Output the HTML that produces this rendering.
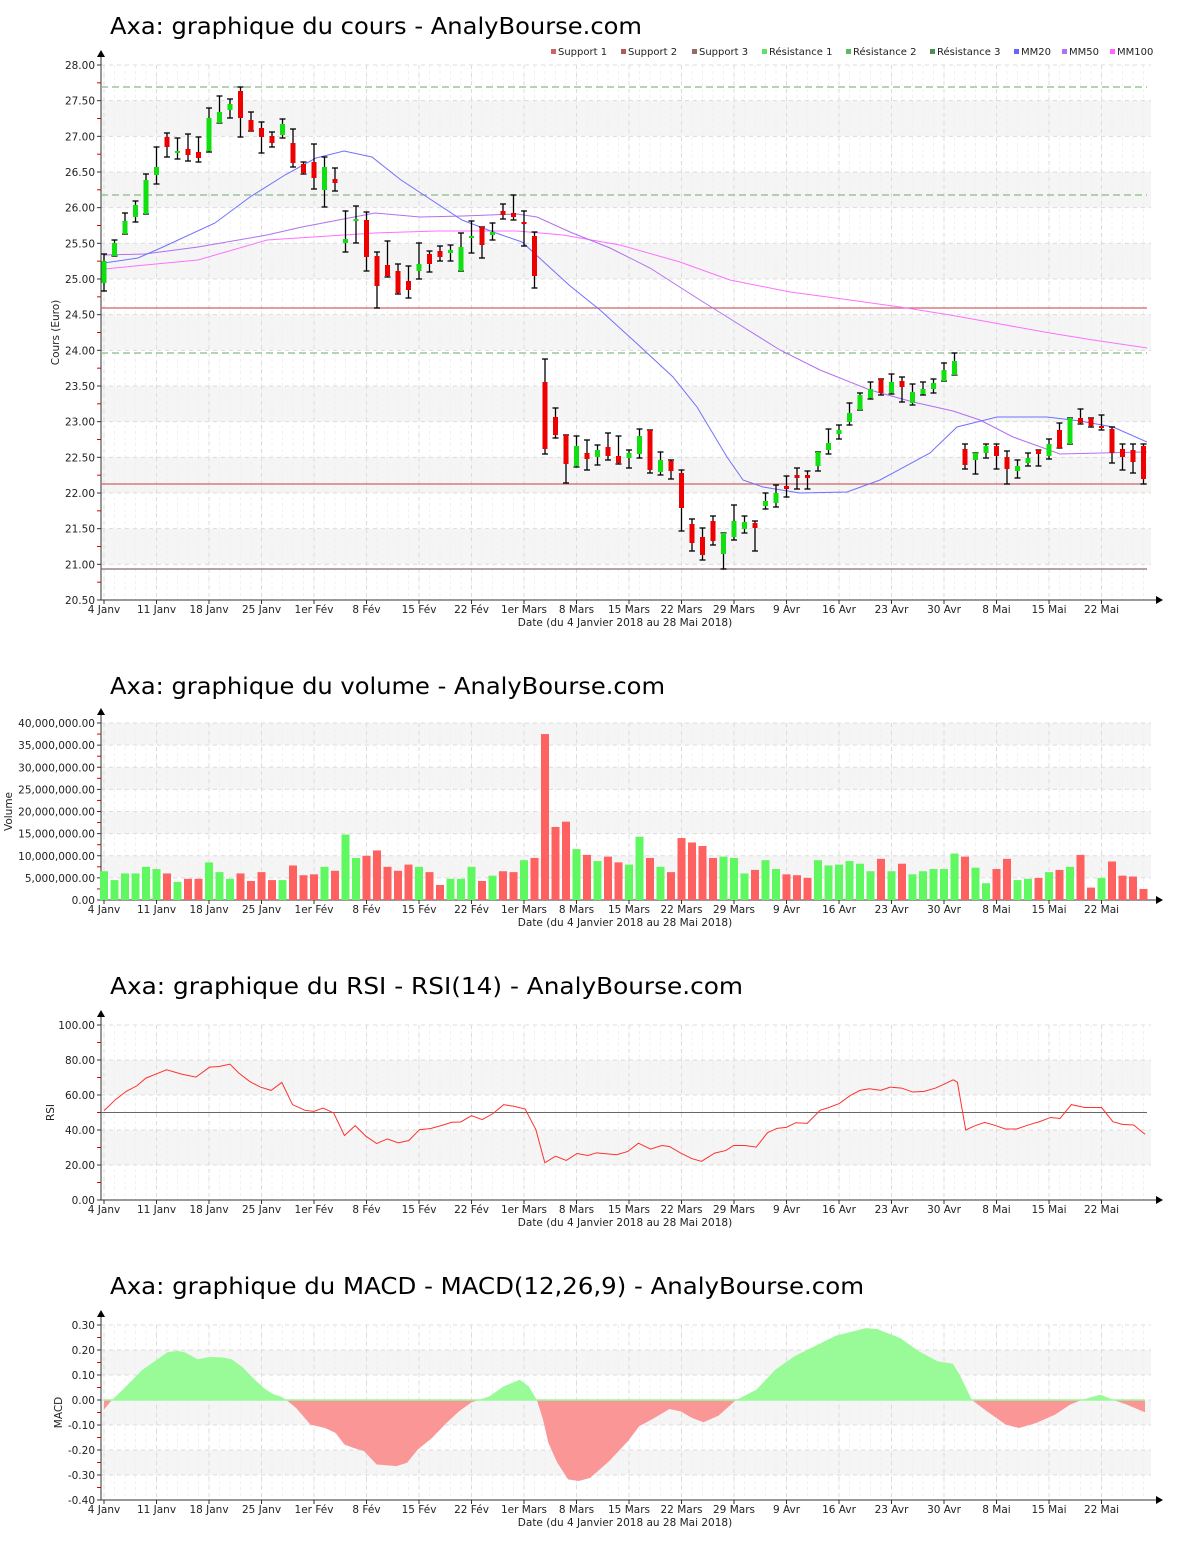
<!DOCTYPE html>
<html><head><meta charset="utf-8">
<style>
html,body{margin:0;padding:0;background:#fff;}
svg{display:block;}
text{font-family:"DejaVu Sans","Liberation Sans",sans-serif;}
</style></head>
<body>
<svg id="s" width="1200" height="1550" xmlns="http://www.w3.org/2000/svg"></svg>
<script>
var S=document.getElementById('s'),h='';
function X(i){return 104+10.5*i;}
var ticks=["4 Janv","11 Janv","18 Janv","25 Janv","1er Fév","8 Fév","15 Fév","22 Fév","1er Mars","8 Mars","15 Mars","22 Mars","29 Mars","9 Avr","16 Avr","23 Avr","30 Avr","8 Mai","15 Mai","22 Mai"];
function frame(o){
 h+='<text x="110" y="'+o.titleY+'" font-size="23.5" fill="#000" textLength="'+o.tl+'" lengthAdjust="spacingAndGlyphs">'+o.title+'</text>';
 o.bands.forEach(function(b){h+='<rect x="101" y="'+b[0]+'" width="1050" height="'+(b[1]-b[0])+'" fill="#f5f5f5"/>';});
 for(var i=0;i<100;i++){h+='<line x1="'+X(i)+'" y1="'+o.top+'" x2="'+X(i)+'" y2="'+o.bot+'" stroke="#f0f0f0" stroke-dasharray="3,3"/>';}
 for(var k=0;k<20;k++){var x=104+52.5*k;h+='<line x1="'+x+'" y1="'+o.top+'" x2="'+x+'" y2="'+o.bot+'" stroke="#dcdcdc" stroke-dasharray="4,4"/>';
  h+='<line x1="'+x+'" y1="'+o.bot+'" x2="'+x+'" y2="'+(o.bot+4)+'" stroke="#333"/>';
  h+='<text x="'+x+'" y="'+(o.bot+13)+'" font-size="10.5" text-anchor="middle" fill="#222">'+ticks[k]+'</text>';}
 o.labels.forEach(function(l,j){h+='<line x1="101" y1="'+l.y+'" x2="1151" y2="'+l.y+'" stroke="#dcdcdc" stroke-dasharray="4,4"/>';
  h+='<line x1="97" y1="'+l.y+'" x2="101" y2="'+l.y+'" stroke="#333"/>';
  h+='<text x="95" y="'+(l.y+4)+'" font-size="10.5" text-anchor="end" fill="#222">'+l.v+'</text>';
  if(j<o.labels.length-1){var m=(l.y+o.labels[j+1].y)/2;h+='<line x1="97" y1="'+m+'" x2="101" y2="'+m+'" stroke="#d00"/>';}
 });
 h+='<line x1="101" y1="'+(o.top-10)+'" x2="101" y2="'+o.bot+'" stroke="#333"/>';
 h+='<polygon points="97,'+(o.top-8)+' 105,'+(o.top-8)+' 101,'+(o.top-15)+'" fill="#000"/>';
 h+='<line x1="101" y1="'+o.bot+'" x2="1158" y2="'+o.bot+'" stroke="#333"/>';
 h+='<polygon points="1156,'+(o.bot-4)+' 1156,'+(o.bot+4)+' 1163,'+o.bot+'" fill="#000"/>';
 h+='<text x="625" y="'+(o.bot+26)+'" font-size="10.5" text-anchor="middle" fill="#222">Date (du 4 Janvier 2018 au 28 Mai 2018)</text>';
 h+='<text transform="translate('+o.ylabX+','+((o.top+o.bot)/2)+') rotate(-90)" font-size="10.5" text-anchor="middle" fill="#222">'+o.ylab+'</text>';
}
var L=[],B=[];
for(var v=28;v>=20.49;v-=0.5){L.push({v:v.toFixed(2),y:65+(28-v)*71.333});}
for(var v=27.5;v>21;v-=1){B.push([65+(28-v)*71.333,65+(28.5-v)*71.333]);}
frame({top:65,bot:600,labels:L,bands:B,title:"Axa: graphique du cours - AnalyBourse.com",titleY:34,tl:532,ylab:"Cours (Euro)",ylabX:59});
[[87,'#88bb88',1],[195,'#88bb88',1],[353,'#88bb88',1],[308,'#cc6666',0],[484,'#cc6666',0],[569,'#886f6f',0]].forEach(function(r){
 h+='<line x1="101" y1="'+r[0]+'" x2="1147" y2="'+r[0]+'" stroke="'+r[1]+'" stroke-width="1.2"'+(r[2]?' stroke-dasharray="7,4"':'')+'/>';});
function poly(p,c){h+='<polyline points="'+p.map(function(a){return a.join(',')}).join(' ')+'" fill="none" stroke="'+c+'" stroke-width="1"/>';}
poly([[104,269],[198,260],[267,240],[375,233],[437,231],[517,231],[563,235],[620,245],[680,262],[730,280],[790,292],[850,300],[900,307],[950,315],[1000,324],[1050,333],[1093,340],[1147,348]],'#ff70ff');
poly([[104,255],[145,254],[198,247],[267,235],[302,227],[375,213],[420,217],[463,216],[517,214],[537,217],[570,232],[610,248],[650,268],[700,300],[740,325],[780,350],[820,370],[870,390],[913,402],[953,411],[980,420],[1013,437],[1060,454],[1143,452],[1147,452]],'#b070f0');
poly([[104,263],[138,258],[163,247],[215,223],[250,197],[285,175],[316,158],[344,151],[372,157],[401,180],[462,220],[496,233],[522,242],[569,285],[600,310],[633,340],[673,377],[697,407],[727,457],[743,480],[763,487],[800,493],[847,492],[880,480],[930,453],[957,427],[997,417],[1047,417],[1080,421],[1113,427],[1147,442]],'#7070ff');
var C=[[261,283,254,291,1],[243,256,240,256,1],[221,234,213,234,1],[205,217,201,222,1],[180,214,174,214,1],[167,175,147,184,1],[137,147,133,157,0],[151,153,138,159,1],[149,155,134,161,0],[152,158,137,162,0],[118,151,108,152,1],[112,123,96,123,1],[104,110,99,118,1],[91,118,87,137,0],[120,131,112,131,0],[128,137,122,153,0],[136,143,132,147,0],[124,135,119,138,1],[143,163,129,167,0],[164,173,162,174,0],[162,178,144,189,0],[167,190,157,207,1],[179,183,168,191,0],[239,243,211,252,1],[219,221,206,243,1],[220,257,212,271,0],[256,286,252,308,0],[265,276,241,277,0],[271,293,264,294,0],[281,290,266,298,0],[264,271,243,279,1],[254,264,251,272,0],[251,257,246,261,0],[250,253,245,261,1],[247,271,233,271,1],[236,237,221,253,1],[227,245,227,258,0],[232,235,223,240,1],[211,215,204,219,0],[213,217,195,220,0],[222,223,211,246,0],[236,276,232,288,0],[382,449,359,454,0],[417,435,408,438,0],[435,464,435,483,0],[446,466,436,467,1],[453,459,440,470,0],[450,457,445,465,1],[447,456,433,460,0],[456,463,436,464,0],[453,458,450,468,1],[436,454,429,458,1],[430,470,430,473,0],[460,472,452,475,1],[461,471,460,479,0],[473,508,470,531,0],[524,543,519,551,0],[537,555,528,560,0],[521,541,516,545,0],[533,554,533,569,1],[521,537,505,540,1],[522,529,516,533,1],[523,528,521,551,0],[501,506,493,509,1],[493,503,485,507,1],[486,489,476,497,0],[475,478,468,489,0],[475,478,471,489,0],[452,466,452,471,1],[443,450,429,454,1],[430,434,425,439,1],[413,422,403,425,1],[395,410,393,410,1],[389,398,382,399,1],[379,393,379,395,0],[382,393,374,394,1],[381,387,377,402,0],[392,403,384,405,1],[389,394,382,395,1],[383,389,379,393,1],[370,381,363,381,1],[361,375,353,375,1],[449,465,444,469,0],[453,460,453,474,1],[446,453,444,458,1],[446,456,444,469,0],[457,469,451,484,0],[466,471,460,478,1],[458,463,453,466,1],[450,454,450,466,0],[444,456,439,459,1],[430,448,423,448,0],[418,444,418,444,1],[418,423,409,424,0],[418,426,418,427,0],[426,427,415,430,0],[429,453,427,463,0],[449,457,444,470,0],[450,462,444,473,0],[446,479,444,484,0]];
C.forEach(function(c,i){var x=X(i);
 h+='<line x1="'+x+'" y1="'+c[2]+'" x2="'+x+'" y2="'+c[3]+'" stroke="#000" stroke-width="1.3"/>';
 h+='<line x1="'+(x-3)+'" y1="'+c[2]+'" x2="'+(x+3)+'" y2="'+c[2]+'" stroke="#000" stroke-width="1.3"/>';
 h+='<line x1="'+(x-3)+'" y1="'+c[3]+'" x2="'+(x+3)+'" y2="'+c[3]+'" stroke="#000" stroke-width="1.3"/>';
 h+='<rect x="'+(x-2.5)+'" y="'+c[0]+'" width="5" height="'+Math.max(2,c[1]-c[0])+'" fill="'+(c[4]?'#10e010':'#ee0000')+'"/>';});
[[551,"Support 1","#cc6666"],[621,"Support 2","#b25a5a"],[692,"Support 3","#946a6a"],[762,"Résistance 1","#66dd66"],[846,"Résistance 2","#5cbb5c"],[930,"Résistance 3","#4f8f4f"],[1014,"MM20","#6666ff"],[1062,"MM50","#b070f0"],[1110,"MM100","#ff66ff"]].forEach(function(l){
 h+='<rect x="'+l[0]+'" y="49" width="5" height="5" fill="'+l[2]+'"/><text x="'+(l[0]+7)+'" y="55" font-size="10" fill="#222">'+l[1]+'</text>';});
L=[];B=[];
for(var k=8;k>=0;k--){L.push({v:(k*5).toString()+",000,000.00",y:900-k*5*4.425});}
L[8].v="0.00";L[7].v="5,000,000.00";
for(var k=8;k>0;k-=2){B.push([900-k*5*4.425,900-(k-1)*5*4.425]);}
frame({top:723,bot:900,labels:L,bands:B,title:"Axa: graphique du volume - AnalyBourse.com",titleY:694,tl:555,ylab:"Volume",ylabX:12});
var V=[[6.5,1],[4.5,1],[6,1],[6,1],[7.5,1],[7,1],[6,0],[4.1,1],[4.8,0],[4.8,0],[8.5,1],[6.3,1],[4.8,1],[6,0],[4.3,0],[6.3,0],[4.5,0],[4.5,1],[7.8,0],[5.6,0],[5.8,0],[7.5,1],[6.6,0],[14.8,1],[9.5,1],[10,0],[11.2,0],[7.5,0],[6.6,0],[8,0],[7.5,1],[6.3,0],[3.4,0],[4.8,1],[4.8,1],[7.5,1],[4.3,0],[5.5,1],[6.5,0],[6.3,0],[9,1],[9.5,0],[37.5,0],[16.5,0],[17.7,0],[11.5,1],[10.2,0],[8.8,1],[9.8,0],[8.5,0],[8,1],[14.3,1],[9.5,0],[7.5,1],[6.3,0],[14,0],[13,0],[12.2,0],[9.5,0],[9.8,1],[9.5,1],[6,1],[6.8,0],[9,1],[7,1],[5.8,0],[5.6,0],[5,0],[9,1],[7.8,1],[8,1],[8.8,1],[8.2,1],[6.5,1],[9.3,0],[6.5,1],[8.2,0],[5.8,1],[6.5,1],[7,1],[7,1],[10.5,1],[9.8,0],[7.3,1],[3.8,1],[7,0],[9.3,0],[4.5,1],[4.8,1],[5,0],[6.3,1],[6.8,0],[7.5,1],[10.2,0],[2.8,0],[5,1],[8.7,0],[5.5,0],[5.3,0],[2.5,0]];
V.forEach(function(b,i){var hh=b[0]*4.425;h+='<rect x="'+(X(i)-4)+'" y="'+(900-hh)+'" width="8" height="'+hh+'" fill="'+(b[1]?'#60f860':'#ff6060')+'"/>';});
L=[];B=[];
for(var k=100;k>=0;k-=20){L.push({v:k.toFixed(2),y:1200-k*1.75});}
B=[[1200-80*1.75,1200-60*1.75],[1200-40*1.75,1200-20*1.75]];
frame({top:1025,bot:1200,labels:L,bands:B,title:"Axa: graphique du RSI - RSI(14) - AnalyBourse.com",titleY:994,tl:633,ylab:"RSI",ylabX:54});
h+='<line x1="101" y1="1112.5" x2="1147" y2="1112.5" stroke="#666"/>';
var z8=[[183,303],[215,270],[245,245],[275,228],[300,205],[330,192],[358,180],[400,193],[440,202],[478,172],[505,170],[535,163],[560,190],[590,215],[620,232],[650,242],[680,218],[710,285],[745,302],[770,305],[795,295],[825,310],[855,378],[885,348],[915,380],[945,402],[975,388],[1005,400],[1035,393],[1065,360],[1095,357],[1125,348],[1155,338],[1180,337],[1210,318],[1240,330],[1270,312],[1300,285],[1330,290],[1360,298],[1390,360],[1415,460],[1445,440],[1475,453],[1505,432],[1535,438],[1560,430]];
var z9=[[100,435],[130,425],[158,400],[190,418],[220,407],[240,410],[270,430],[300,447],[325,455],[360,430],[390,422],[410,407],[440,407],[470,412],[500,368],[525,355],[550,352],[575,338],[605,340],[640,300],[660,293],[690,280],[720,255],[745,240],[770,235],[800,240],[825,230],[855,233],[885,245],[915,243],[945,233],[970,220],[992,208],[1003,215],[1025,360],[1050,347],[1075,337],[1100,345],[1130,357],[1160,357],[1190,345],[1220,335],[1250,322],[1275,325],[1305,283],[1340,292],[1385,292],[1415,335],[1440,343],[1470,345],[1500,373]];
function mapL(p){return [104+(p[0]-183)*0.3578,1025+(p[1]-45)*0.332];}
function mapR(p,y0){return [629+(p[0]-133)*0.3769,y0+(p[1]-307)*0.33];}
var R=z8.map(mapL).concat(z9.map(function(p){return mapR(p,1112.5);}));
R=R.map(function(p){return [p[0]<629?p[0]:629+(p[0]-629)*((1145-629)/(R[R.length-1][0]-629)),p[1]];});
poly(R,'#ff3030');
L=[];
for(var k=3;k>=-4;k--){L.push({v:(k/10).toFixed(2),y:1400-k*25});}
B=[[1350,1375],[1400,1425],[1450,1475]];
frame({top:1325,bot:1500,labels:L,bands:B,title:"Axa: graphique du MACD - MACD(12,26,9) - AnalyBourse.com",titleY:1294,tl:754,ylab:"MACD",ylabX:62});
var m10=[[183,300],[205,271],[240,235],[290,180],[330,150],[360,127],[390,123],[410,128],[445,148],[480,141],[515,143],[540,148],[570,172],[600,205],[630,235],[655,253],[680,262],[693,271],[720,295],[760,345],[800,355],[830,370],[855,405],[880,415],[910,425],[945,465],[1000,470],[1030,460],[1060,420],[1100,385],[1140,340],[1175,305],[1210,278],[1230,271],[1260,260],[1300,230],[1345,210],[1370,230],[1393,271],[1410,330],[1425,400],[1450,460],[1480,510],[1510,515]];
var m11=[[30,505],[80,455],[130,395],[160,350],[200,325],[240,298],[270,305],[300,325],[330,338],[370,318],[415,272],[470,240],[520,180],[570,140],[620,112],[680,78],[760,55],[790,58],[850,85],[900,125],[950,155],[990,162],[1010,200],[1040,271],[1080,305],[1130,345],[1165,355],[1210,340],[1260,315],[1300,285],[1330,271],[1380,255],[1415,271],[1450,285],[1498,308]];
var M=m10.map(function(p){return [104+(p[0]-183)*0.3578,1325+(p[1]-45)*0.332];}).concat(m11.map(function(p){return [629+(p[0]-133)*0.3769,1400+(p[1]-271)*0.333];}));
var xe=M[M.length-1][0];
M=M.map(function(p){return [p[0]<629?p[0]:629+(p[0]-629)*((1145-629)/(xe-629)),p[1]];});
var pts=M.map(function(a){return a.join(',')}).join(' ');
var x0=M[0][0],x1=M[M.length-1][0];
h+='<defs><clipPath id="ca"><rect x="100" y="1300" width="1060" height="100"/></clipPath><clipPath id="cb"><rect x="100" y="1400" width="1060" height="110"/></clipPath></defs>';
h+='<polygon clip-path="url(#ca)" points="'+x0+',1400 '+pts+' '+x1+',1400" fill="#98fb98"/>';
h+='<polygon clip-path="url(#cb)" points="'+x0+',1400 '+pts+' '+x1+',1400" fill="#fa9696"/>';
h+='<line x1="'+x0+'" y1="1400" x2="'+x1+'" y2="1400" stroke="#98fb98" stroke-width="1.5"/>';
S.innerHTML=h;
</script>
</body></html>
